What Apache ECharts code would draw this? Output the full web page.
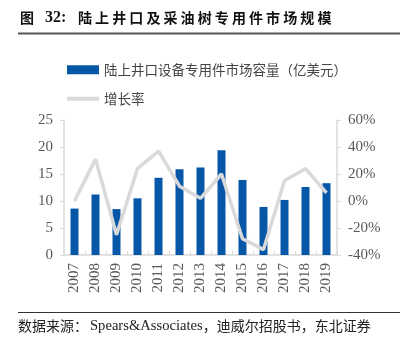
<!DOCTYPE html>
<html>
<head>
<meta charset="utf-8">
<script src="https://cdn.jsdelivr.net/npm/echarts@6/dist/echarts.min.js"></script>
<style>
  html, body { margin: 0; padding: 0; background: #fff; }
  #chart { width: 407px; height: 347px; }
</style>
</head>
<body>
<div id="chart"></div>
<script>
// Onshore wellhead & christmas-tree components market, 2007–2019
const years = ['2007','2008','2009','2010','2011','2012','2013','2014','2015','2016','2017','2018','2019'];
const marketSize = [8.6, 11.2, 8.5, 10.5, 14.3, 15.9, 16.2, 19.4, 13.9, 8.9, 10.2, 12.6, 13.3]; // 亿美元
const growthRate = [0, 31, -25, 24, 37, 11, 2, 20, -28, -36, 15, 24, 6]; // %
const leftTicks = { min: 0, max: 25, interval: 5 };
const rightTicks = { min: -40, max: 60, interval: 20 };

const seriesNames = ['陆上井口设备专用件市场容量（亿美元）', '增长率'];
const titleLabel = '图';
const titleNumber = '32:';
const titleText = '陆上井口及采油树专用件市场规模';
const sourceLabel = '数据来源：';
const sourceLatin = 'Spears&Associates';
const sourceRest = '，迪威尔招股书，东北证券';

const serif = '"Liberation Serif", serif';
const cjk = '"Noto Sans CJK SC", sans-serif';
const axisGray = '#d9d9d9';
const labelGray = '#595959';

// Title drawn glyph by glyph so the characters get the wide, even spacing of the heading style
const titleGraphics = [
  { type: 'text', x: 20, y: 11, style: { text: titleLabel, font: 'bold 14px ' + cjk, fill: '#111' } },
  { type: 'text', x: 45, y: 10, style: { text: titleNumber, font: 'bold 16px ' + serif, fill: '#111' } }
];
Array.from(titleText).forEach((ch, i) => {
  titleGraphics.push({ type: 'text', x: 78 + i * 17.1, y: 11, style: { text: ch, font: 'bold 14px ' + cjk, fill: '#111' } });
});

const chart = echarts.init(document.getElementById('chart'), null, { renderer: 'canvas' });
chart.setOption({
  animation: false,
  backgroundColor: '#fff',
  graphic: titleGraphics.concat([
    { type: 'line', shape: { x1: 18, y1: 33.5, x2: 400, y2: 33.5 }, style: { stroke: '#555', lineWidth: 2 } },
    { type: 'line', shape: { x1: 18, y1: 312.5, x2: 400, y2: 312.5 }, style: { stroke: '#333', lineWidth: 1 } },
    {
      type: 'text', x: 18, y: 318,
      style: {
        text: '{a|' + sourceLabel + '}{s| }{b|' + sourceLatin + '}{a|' + sourceRest + '}',
        rich: {
          a: { fontFamily: cjk, fontSize: 14, fill: '#222', lineHeight: 16 },
          s: { fontFamily: serif, fontSize: 8, lineHeight: 16 },
          b: { fontFamily: serif, fontSize: 14.6, fill: '#222', lineHeight: 16 }
        }
      }
    }
  ]),
  legend: [
    {
      data: [{ name: seriesNames[0], icon: 'rect' }],
      left: 62, top: 58, itemWidth: 32, itemHeight: 9,
      textStyle: { fontFamily: cjk, fontSize: 13.5, color: '#444' }
    },
    {
      data: [{ name: seriesNames[1], icon: 'rect' }],
      left: 62, top: 87, itemWidth: 32, itemHeight: 4,
      textStyle: { fontFamily: cjk, fontSize: 13.5, color: '#444' }
    }
  ],
  grid: { left: 64, right: 70, top: 120, bottom: 92 },
  xAxis: {
    type: 'category',
    data: years,
    axisLine: { lineStyle: { color: axisGray, width: 1.5 } },
    axisTick: { show: true, alignWithLabel: false, length: 4, inside: true, lineStyle: { color: axisGray } },
    axisLabel: { rotate: 90, fontFamily: serif, fontSize: 15, color: labelGray, margin: 8 }
  },
  yAxis: [
    {
      type: 'value', min: leftTicks.min, max: leftTicks.max, interval: leftTicks.interval,
      axisLine: { show: true, lineStyle: { color: axisGray, width: 1.5 } },
      axisTick: { show: true, length: 4, lineStyle: { color: axisGray } },
      splitLine: { show: false },
      axisLabel: { fontFamily: serif, fontSize: 15, color: labelGray, margin: 11 }
    },
    {
      type: 'value', min: rightTicks.min, max: rightTicks.max, interval: rightTicks.interval,
      position: 'right',
      axisLine: { show: true, lineStyle: { color: axisGray, width: 1.5 } },
      axisTick: { show: true, length: 4, lineStyle: { color: axisGray } },
      splitLine: { show: false },
      axisLabel: { fontFamily: serif, fontSize: 15, color: labelGray, margin: 11, formatter: '{value}%' }
    }
  ],
  series: [
    {
      name: seriesNames[0], type: 'bar', yAxisIndex: 0,
      data: marketSize, barWidth: 8,
      itemStyle: { color: '#0757a9' }
    },
    {
      name: seriesNames[1], type: 'line', yAxisIndex: 1,
      data: growthRate, symbol: 'none',
      lineStyle: { color: '#d9d9d9', width: 3.5 },
      itemStyle: { color: '#d9d9d9' }
    }
  ]
});
</script>
</body>
</html>
